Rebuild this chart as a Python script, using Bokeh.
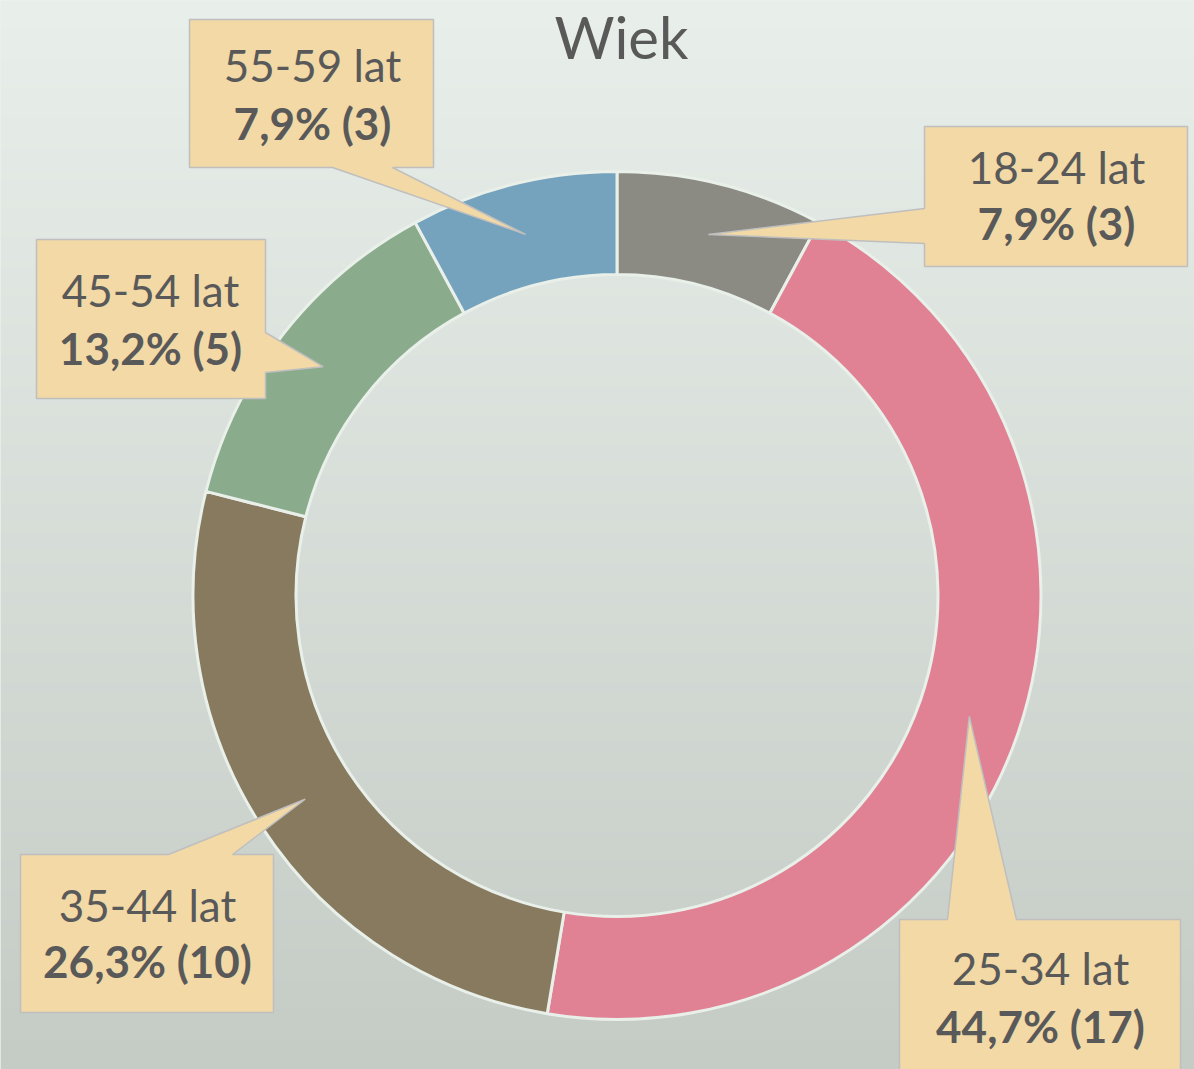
import numpy as np
from bokeh.plotting import figure
from bokeh.models import Range1d, ColumnDataSource
from bokeh.core.properties import value
from bokeh.embed import file_html
from bokeh.resources import INLINE

# ---------------- data ----------------
title_text = "Wiek"
categories = ["18-24 lat", "25-34 lat", "35-44 lat", "45-54 lat", "55-59 lat"]
counts = [3, 17, 10, 5, 3]
colors = ["#8b8b83", "#e08294", "#877a5e", "#8bab8d", "#75a3bd"]

# ---------------- layout (reference pixel coords, y down) ----------------
REF_H = 1069
W, H = 1194, 1069
CX, CY = 616.5, 595.0          # donut centre
R_OUT, R_IN = 424.0, 321.0
# callout boxes: left, top, right, bottom, pointer side, pointer base (a, b), text centre x, baselines
boxes = [
    (924, 126, 1187, 266, "left",   (208, 243), 1056, (184, 240)),
    (899, 919, 1180, 1090, "top",   (947, 1016), 1040, (985, 1043)),
    (20, 854, 273, 1012, "top",     (168, 232), 147, (922, 978)),
    (36, 239, 265, 398, "right",    (332, 372), 150, (307, 365)),
    (189, 19, 433, 167, "bottom",   (332, 392), 312, (82, 140)),
]
LABEL_SHIFT = 18   # compensation for renderer baseline offset
TITLE_SHIFT = 22

FONT = "Lato"
TXT = "#595959"


def Y(y):
    return REF_H - y


p = figure(width=W, height=H,
           x_range=Range1d(0, W), y_range=Range1d(0, H),
           output_backend="svg", toolbar_location=None, min_border=0)
p.axis.visible = False
p.grid.visible = False
p.outline_line_color = None
p.background_fill_color = "#dde3dd"
p.border_fill_color = "#dde3dd"

# background gradient
top_c = np.array([233, 239, 234], dtype=float)
bot_c = np.array([197, 203, 197], dtype=float)
img = np.empty((H, 2), dtype=np.uint32)
view = img.view(dtype=np.uint8).reshape((H, 2, 4))
for r in range(H):
    ref_y = REF_H - r
    t = ref_y / REF_H
    c = top_c + (bot_c - top_c) * t
    view[r, :, 0] = int(c[0])
    view[r, :, 1] = int(c[1])
    view[r, :, 2] = int(c[2])
    view[r, :, 3] = 255
p.image_rgba(image=[img], x=0, y=0, dw=W, dh=H)

# donut
total = float(sum(counts))
cum = np.concatenate([[0], np.cumsum(counts)])
starts = [np.pi / 2 - 2 * np.pi * cum[i] / total for i in range(len(counts))]
ends = [np.pi / 2 - 2 * np.pi * cum[i + 1] / total for i in range(len(counts))]
src = ColumnDataSource(dict(start=starts, end=ends, color=colors))
p.annular_wedge(x=CX, y=Y(CY), inner_radius=R_IN, outer_radius=R_OUT,
                start_angle="start", end_angle="end", direction="clock",
                fill_color="color", line_color="#e9efe9", line_width=3, source=src)

# callouts
xs, ys = [], []
tx, ty, tl = [], [], []
bx, by, bl = [], [], []
rm = (R_IN + R_OUT) / 2
for i, (L, T, R, B, side, (a, b), cxt, (bl1, bl2)) in enumerate(boxes):
    th = (starts[i] + ends[i]) / 2
    tipx = CX + rm * np.cos(th)
    tipy_data = Y(CY) + rm * np.sin(th)
    tipy = REF_H - tipy_data
    if side == "bottom":
        pts = [(L, T), (R, T), (R, B), (b, B), (tipx, tipy), (a, B), (L, B)]
    elif side == "top":
        pts = [(L, T), (a, T), (tipx, tipy), (b, T), (R, T), (R, B), (L, B)]
    elif side == "left":
        pts = [(L, T), (R, T), (R, B), (L, B), (L, b), (tipx, tipy), (L, a)]
    else:  # right
        pts = [(L, T), (R, T), (R, a), (tipx, tipy), (R, b), (R, B), (L, B)]
    xs.append([q[0] for q in pts])
    ys.append([Y(q[1]) for q in pts])
    pct = f"{100 * counts[i] / total:.1f}".replace(".", ",")
    tx.append(cxt); ty.append(Y(bl1 - LABEL_SHIFT)); tl.append(categories[i])
    bx.append(cxt); by.append(Y(bl2 - LABEL_SHIFT)); bl.append(f"{pct}% ({counts[i]})")

p.patches(xs, ys, fill_color="#f2d9a6", line_color="#bfbfbf", line_width=1.5)

p.text(x=tx, y=ty, text=tl, text_font=value(FONT), text_font_size="44px",
       text_color=TXT, text_align="center", text_baseline="alphabetic")
p.text(x=bx, y=by, text=bl, text_font=value(FONT), text_font_size="44px",
       text_font_style="bold", text_color=TXT, text_align="center",
       text_baseline="alphabetic")

# title
p.text(x=[621], y=[Y(58 - TITLE_SHIFT)], text=[title_text], text_font=value(FONT),
       text_font_size="58px", text_color=TXT, text_align="center",
       text_baseline="alphabetic")

open("out.html", "w").write(file_html(p, INLINE, title="Wiek"))
